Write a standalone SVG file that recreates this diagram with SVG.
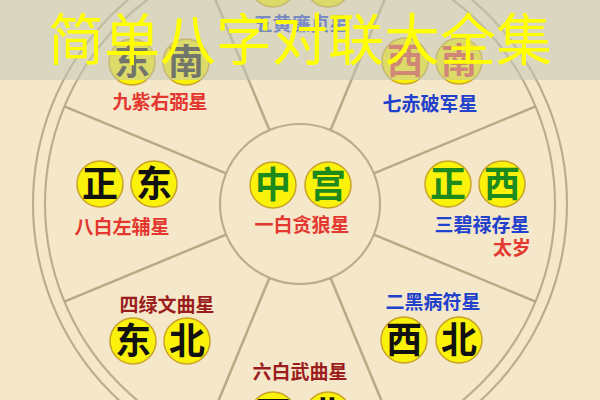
<svg xmlns="http://www.w3.org/2000/svg" width="600" height="400" viewBox="0 0 600 400">
<style>
.ring{fill:none;stroke:#bcae8c;stroke-width:2.2}
.spoke{stroke:#b9aa86;stroke-width:2.5}
.dot{fill:#fbf20c;stroke:#c9a227;stroke-width:1.5}
.ch{font-family:"Noto Sans CJK SC","Noto Sans CJK JP",sans-serif;font-size:36px;font-weight:bold;text-anchor:middle}
.lb{font-family:"Noto Sans CJK SC","Noto Sans CJK JP",sans-serif;font-size:19px;font-weight:bold;text-anchor:middle}
.k{fill:#111}
.g{fill:#1d8a1d}
.r{fill:#e0392b}
.red{fill:#e3372f}
.blue{fill:#2140cc}
.dred{fill:#9c1d1d}
</style>
<rect width="600" height="400" fill="#f5e7ca"/>
<g id="wheel">
<circle class="ring" cx="300" cy="204" r="267" stroke-width="1.8"/>
<circle class="ring" cx="300" cy="204" r="255"/>
<circle class="ring" cx="300" cy="204" r="80" stroke-width="2.5"/>
<g class="spoke">
<line x1="373.9" y1="173.4" x2="535.6" y2="106.4"/>
<line x1="330.6" y1="130.1" x2="397.6" y2="-31.6"/>
<line x1="269.4" y1="130.1" x2="202.4" y2="-31.6"/>
<line x1="226.1" y1="173.4" x2="64.4" y2="106.4"/>
<line x1="226.1" y1="234.6" x2="64.4" y2="301.6"/>
<line x1="269.4" y1="277.9" x2="202.4" y2="439.6"/>
<line x1="330.6" y1="277.9" x2="397.6" y2="439.6"/>
<line x1="373.9" y1="234.6" x2="535.6" y2="301.6"/>
</g>
</g>
<g id="node-dongnan">
<circle class="dot" cx="132" cy="62" r="23"/><text class="ch k" x="132" y="75">东</text>
<circle class="dot" cx="186" cy="62" r="23"/><text class="ch k" x="186" y="75">南</text>
<text class="lb red" x="160" y="109">九紫右弼星</text>
</g>
<g id="node-zhengnan">
<circle class="dot" cx="273" cy="-16" r="23"/><text class="ch r" x="273" y="-3">正</text>
<circle class="dot" cx="328" cy="-16" r="23"/><text class="ch r" x="328" y="-3">南</text>
<text class="lb blue" x="301" y="31">五黄廉贞星</text>
</g>
<g id="node-xinan">
<circle class="dot" cx="405" cy="61" r="23"/><text class="ch r" x="405" y="74">西</text>
<circle class="dot" cx="459" cy="61" r="23"/><text class="ch r" x="459" y="74">南</text>
<text class="lb blue" x="430" y="111">七赤破军星</text>
</g>
<g id="node-zhengdong">
<circle class="dot" cx="100" cy="184" r="23"/><text class="ch k" x="100" y="197">正</text>
<circle class="dot" cx="154" cy="184" r="23"/><text class="ch k" x="154" y="197">东</text>
<text class="lb red" x="122" y="234">八白左辅星</text>
</g>
<g id="node-zhonggong">
<circle class="dot" cx="273" cy="185" r="23"/><text class="ch g" x="273" y="198">中</text>
<circle class="dot" cx="328" cy="185" r="23"/><text class="ch g" x="328" y="198">宫</text>
<text class="lb red" x="302" y="232">一白贪狼星</text>
</g>
<g id="node-zhengxi">
<circle class="dot" cx="448" cy="184" r="23"/><text class="ch g" x="448" y="197">正</text>
<circle class="dot" cx="502" cy="184" r="23"/><text class="ch g" x="502" y="197">西</text>
<text class="lb blue" x="482" y="232">三碧禄存星</text>
<text class="lb red" x="512" y="255">太岁</text>
</g>
<g id="node-dongbei">
<text class="lb dred" x="167" y="312">四绿文曲星</text>
<circle class="dot" cx="133" cy="341" r="23"/><text class="ch k" x="133" y="354">东</text>
<circle class="dot" cx="187" cy="341" r="23"/><text class="ch k" x="187" y="354">北</text>
</g>
<g id="node-zhengbei">
<text class="lb dred" x="300" y="379">六白武曲星</text>
<circle class="dot" cx="273" cy="415" r="23"/><text class="ch k" x="273" y="428">正</text>
<circle class="dot" cx="328" cy="415" r="23"/><text class="ch k" x="328" y="428">北</text>
</g>
<g id="node-xibei">
<text class="lb blue" x="433" y="309">二黑病符星</text>
<circle class="dot" cx="404" cy="340" r="23"/><text class="ch k" x="404" y="353">西</text>
<circle class="dot" cx="459" cy="340" r="23"/><text class="ch k" x="459" y="353">北</text>
</g>
<g id="banner">
<rect x="0" y="0" width="600" height="80" fill="#c3c8b6" opacity="0.55"/>
<text x="300" y="60" font-family="'Noto Sans CJK SC','Noto Sans CJK JP',sans-serif" font-size="56" fill="#ffff00" text-anchor="middle">简单八字对联大全集</text>
</g>
</svg>
